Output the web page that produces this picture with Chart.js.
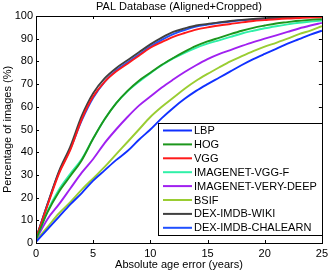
<!DOCTYPE html>
<html>
<head>
<meta charset="utf-8">
<script src="https://cdn.jsdelivr.net/npm/chart.js@4/dist/chart.umd.min.js"></script>
<style>
html, body { margin: 0; padding: 0; background: #fff; }
</style>
</head>
<body>
<canvas id="cdf" width="332" height="272"></canvas>
<script>
// absolute age error (years)
let errYears = [0,1,2,3,4,5,6,7,8,9,10,11,12,13,14,15,16,17,18,19,20,21,22,23,24,25];

// cumulative % of images per method
let lbp      = [0.5,6,11.5,17,22,27.5,32,36.5,40.5,45.5,50,55,59.5,63.5,67,70,72.8,75.6,78.4,81,83.3,85.5,87.8,89.8,91.8,93.5];
let hog      = [1.5,13.5,22.5,29.5,36.5,46,54.5,61.5,67,71.5,75,78.5,81.5,84.3,86.8,88.8,90.4,92,93.5,94.8,95.8,96.7,97.3,97.9,98.3,98.6];
let vgg      = [2,16.5,30.5,41,54.5,64.5,71,75.5,79,82.5,86,88.5,90.8,92.5,94,95,95.8,96.5,97.2,97.8,98.2,98.6,98.9,99.1,99.3,99.4];
let vggF     = [1.5,14,23.5,30.5,37,46,54.5,61.5,66.8,71,74.8,78.3,81.3,83.8,86,87.8,89.3,90.8,92.3,93.5,94.6,95.5,96.3,97,97.5,98];
let veryDeep = [1.5,10.5,17,24,31,37,44,50,55.5,60.5,64.5,68.5,72,75.3,78.3,81,83.2,85,86.8,88.5,90,91.5,93,94.5,95.8,97];
let bsif     = [1,7,13,18,23.5,28.5,33.5,39,44.5,50,55.5,60,64,68,71.5,74.5,77.3,80,82.3,84.5,86.5,88.2,90,92,93.6,95.5];
let dexWiki  = [2,17,31.5,42.5,56,66,72.5,77,80.5,84,87.5,90.5,93,94.5,95.8,96.5,97.2,97.8,98.3,98.7,99,99.3,99.5,99.7,99.8,100];
let dexChal  = [2,17,31,41.5,54,64,71,76,79.5,83,86.5,89.5,92,93.8,95.3,96.2,97,97.6,98.1,98.5,98.8,99.1,99.4,99.6,99.7,99.8];

let names  = ["LBP","HOG","VGG","IMAGENET-VGG-F","IMAGENET-VERY-DEEP","BSIF","DEX-IMDB-WIKI","DEX-IMDB-CHALEARN"];
let series = [lbp, hog, vgg, vggF, veryDeep, bsif, dexWiki, dexChal];
let colors = ["#1030ff","#1c961c","#ff1a1a","#30f0a8","#a020f0","#9acd32","#404040","#2050ff"];

const FONT = '"Liberation Sans", Arial, sans-serif';

function pts(arr) {
    return arr.map(function (v, i) { return { x: errYears[i], y: v }; });
}

let datasets = series.map(function (s, i) {
    return {
        label: names[i],
        data: pts(s),
        borderColor: colors[i],
        backgroundColor: colors[i],
        borderWidth: 1.9,
        pointRadius: 0,
        fill: false,
        cubicInterpolationMode: 'monotone'
    };
});

// frame, inward ticks, title and the boxed legend (matlab look)
const matlabBits = {
    id: 'matlabBits',
    afterDatasetsDraw(chart) {
        const ctx = chart.ctx;
        const a = chart.chartArea;
        const xs = chart.scales.x, ys = chart.scales.y;
        ctx.save();
        ctx.strokeStyle = '#000';
        ctx.lineWidth = 1;
        ctx.strokeRect(Math.round(a.left) + 0.5, Math.round(a.top) + 0.5,
            Math.round(a.right - a.left), Math.round(a.bottom - a.top));

        ctx.beginPath();
        xs.ticks.forEach(function (t) {
            const px = Math.round(xs.getPixelForValue(t.value)) + 0.5;
            ctx.moveTo(px, a.bottom); ctx.lineTo(px, a.bottom - 3);
            ctx.moveTo(px, a.top); ctx.lineTo(px, a.top + 3);
        });
        ys.ticks.forEach(function (t) {
            const py = Math.round(ys.getPixelForValue(t.value)) + 0.5;
            ctx.moveTo(a.left, py); ctx.lineTo(a.left + 3, py);
            ctx.moveTo(a.right, py); ctx.lineTo(a.right - 3, py);
        });
        ctx.stroke();

        // title
        ctx.fillStyle = '#000';
        ctx.font = '11px ' + FONT;
        ctx.textAlign = 'center';
        ctx.textBaseline = 'middle';
        ctx.fillText('PAL Database (Aligned+Cropped)', (a.left + a.right) / 2, 7);

        // legend
        const lx = 158, ly = 123, lw = 164, lh = 112;
        ctx.fillStyle = '#fff';
        ctx.fillRect(lx, ly, lw, lh);
        ctx.strokeRect(lx + 0.5, ly + 0.5, lw, lh);
        ctx.textAlign = 'left';
        names.forEach(function (n, i) {
            const ry = 130.5 + i * 13.9;
            ctx.strokeStyle = colors[i];
            ctx.lineWidth = 2;
            ctx.beginPath();
            ctx.moveTo(163, ry); ctx.lineTo(192, ry);
            ctx.stroke();
            ctx.fillStyle = '#000';
            ctx.fillText(n, 194, ry + 0.5);
        });
        ctx.restore();
    }
};

new Chart(document.getElementById('cdf'), {
    type: 'line',
    data: { datasets: datasets },
    options: {
        responsive: false,
        animation: false,
        layout: { padding: { top: 16, right: 8, left: 0, bottom: 0 } },
        plugins: {
            legend: { display: false },
            title: { display: false },
            tooltip: { enabled: false }
        },
        scales: {
            x: {
                type: 'linear',
                min: 0, max: 25,
                grid: { display: false, drawTicks: false },
                border: { display: false },
                ticks: { stepSize: 5, padding: 4, color: '#000', font: { family: FONT, size: 11 }, maxRotation: 0 },
                title: { display: true, text: 'Absolute age error (years)', color: '#000', font: { family: FONT, size: 11 }, padding: 0 },
                afterFit(s) { s.height = 29; }
            },
            y: {
                min: 0, max: 100,
                grid: { display: false, drawTicks: false },
                border: { display: false },
                ticks: { stepSize: 10, padding: 3, color: '#000', font: { family: FONT, size: 11 } },
                title: { display: true, text: 'Percentage of images (%)', color: '#000', font: { family: FONT, size: 11 }, padding: { top: 1, bottom: 0 } },
                afterFit(s) { s.width = 36; }
            }
        }
    },
    plugins: [matlabBits]
});
</script>
</body>
</html>
